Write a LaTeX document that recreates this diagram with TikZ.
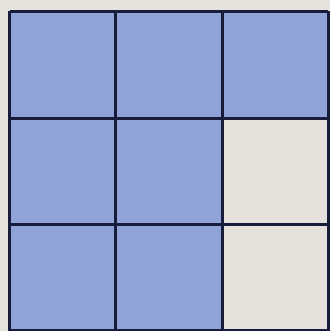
\documentclass[tikz,border=0pt]{standalone}
\definecolor{bg}{RGB}{230,226,222}
\definecolor{cellblue}{RGB}{143,163,214}
\definecolor{cellgrey}{RGB}{228,224,220}
\definecolor{gridline}{RGB}{22,28,58}
\begin{document}
\begin{tikzpicture}[x=1pt,y=-1pt,
  gridstroke/.style={draw=gridline,line width=3pt}]
\fill[bg] (0,0) rectangle (330,331);
\useasboundingbox (0,0) rectangle (330,331);
% blue cells
\fill[cellblue] (9.5,11.5) rectangle (328,118.5);
\fill[cellblue] (9.5,118.5) rectangle (222.5,330);
% grey cells
\fill[cellgrey] (222.5,118.5) rectangle (328,330);
% grid lines
\foreach \x in {9.5,115.5,222.5,328} \draw[gridstroke] (\x,11.5) -- (\x,331);
\foreach \y in {11.5,118.5,224,330} \draw[gridstroke] (9.5,\y) -- (328,\y);
\end{tikzpicture}
\end{document}
